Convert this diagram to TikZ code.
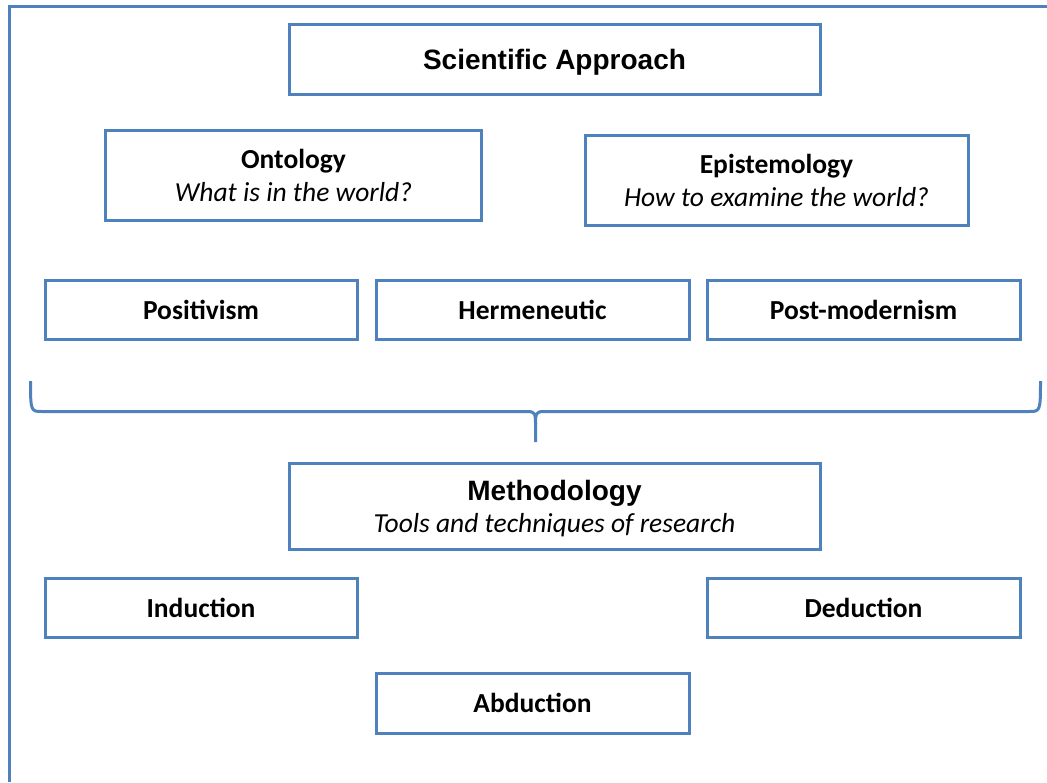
\documentclass[tikz,border=0pt]{standalone}
\usepackage{fontspec}
\setmainfont{Carlito}
\newfontfamily\arialfont{Liberation Sans}
\definecolor{boxblue}{HTML}{4F81BD}
\tikzset{
  box/.style={draw=boxblue, line width=3pt, fill=white, inner sep=0pt, align=center,
    font=\fontsize{27.5}{33}\selectfont},
  frameline/.style={draw=boxblue, line width=3pt},
  braceline/.style={draw=boxblue, line width=3pt, line join=round},
  boxtext/.style={align=center, inner sep=0pt, yshift=-3pt, font=\fontsize{27.5}{33}\selectfont},
}
\begin{document}
\begin{tikzpicture}[x=1pt,y=-1pt]
\useasboundingbox (0,0) rectangle (1047,782);
\fill[white] (0,0) rectangle (1047,782);
% frame
\coordinate (fbl) at (9.5,782);
\coordinate (ftl) at (9.5,6.5);
\coordinate (ftr) at (1047,6.5);
\draw[frameline] (fbl) -- (ftl) -- (ftr);

\node[box, minimum width=531, minimum height=70,
  label={[boxtext]center:{\arialfont\bfseries\fontsize{28}{33}\selectfont Scientific Approach}}]
  (sci) at (554.5,59.5) {};

\node[box, minimum width=376, minimum height=90] (onto) at (293.5,175.5)
  {\textbf{Ontology}\\\textit{What is in the world?}};
\node[box, minimum width=383, minimum height=90] (epis) at (776.5,180.5)
  {\textbf{Epistemology}\\\textit{How to examine the world?}};

\node[box, minimum width=312, minimum height=59] (posi) at (201,309.5) {\textbf{Positivism}};
\node[box, minimum width=313, minimum height=59] (herm) at (532.5,309.5) {\textbf{Hermeneutic}};
\node[box, minimum width=313, minimum height=59] (post) at (863.5,309.5) {\textbf{Post-modernism}};

% brace
\coordinate (bl) at (30.5,381);
\coordinate (br) at (1040.5,381);
\coordinate (btip) at (535.5,442);
\draw[braceline] (bl) .. controls (30.5,411.5) and (31,411.5) .. (42,411.5)
  -- (527,411.5) .. controls (535.5,411.5) and (535.5,414) .. (535.5,424) -- (btip);
\draw[braceline] (br) .. controls (1040.5,411.5) and (1040,411.5) .. (1029,411.5)
  -- (544,411.5) .. controls (535.5,411.5) and (535.5,414) .. (535.5,424);

\node[box, minimum width=531, minimum height=86,
  label={[boxtext]center:{{\arialfont\bfseries\fontsize{28}{32}\selectfont Methodology}\\[-1pt]\textit{Tools and techniques of research}}}]
  (meth) at (554.5,506) {};

\node[box, minimum width=312, minimum height=59] (indu) at (201,607.5) {\textbf{Induction}};
\node[box, minimum width=313, minimum height=59] (dedu) at (863.5,607.5) {\textbf{Deduction}};
\node[box, minimum width=313, minimum height=60] (abdu) at (532.5,703) {\textbf{Abduction}};
\end{tikzpicture}
\end{document}
